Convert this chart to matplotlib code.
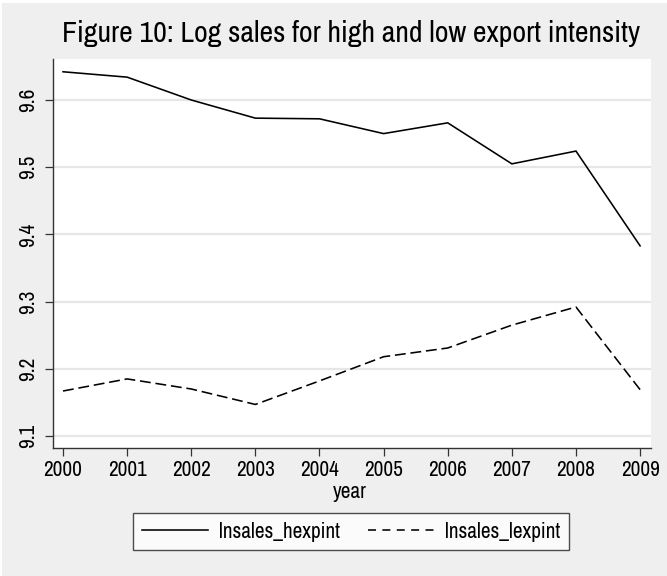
import matplotlib
matplotlib.use("Agg")
import matplotlib.pyplot as plt
from matplotlib.lines import Line2D
from matplotlib.patches import Rectangle

# ---- data ----
years = [2000, 2001, 2002, 2003, 2004, 2005, 2006, 2007, 2008, 2009]
lnsales_hexpint = [9.642, 9.634, 9.600, 9.573, 9.572, 9.550, 9.566, 9.505, 9.524, 9.383]
lnsales_lexpint = [9.167, 9.185, 9.170, 9.147, 9.182, 9.218, 9.231, 9.265, 9.292, 9.169]
yticks = [9.1, 9.2, 9.3, 9.4, 9.5, 9.6]
title = "Figure 10: Log sales for high and low export intensity"
series_labels = ["lnsales_hexpint", "lnsales_lexpint"]

plt.rcParams["font.family"] = ["Archivo Narrow", "Liberation Sans", "DejaVu Sans"]

W, H = 667, 576
fig = plt.figure(figsize=(W / 100, H / 100), dpi=100, facecolor="white")
BG = "#efefef"
fig.patches.append(Rectangle((2 / W, 0), 1, 1 - 3 / H, transform=fig.transFigure,
                             facecolor=BG, edgecolor="none", zorder=-10))

ax = fig.add_axes([53 / W, 1 - 448 / H, (651 - 53) / W, (448 - 59) / H])
ax.set_facecolor("white")
ax.plot(years, lnsales_hexpint, color="black", lw=1.15, solid_joinstyle="miter")
ax.plot(years, lnsales_lexpint, color="black", lw=1.15, dashes=(6.8, 3))

ax.set_xlim(1999.844, 2009.17)
ax.set_ylim(9.0822, 9.661)
ax.set_xticks(years)
ax.set_xticklabels([str(y) for y in years])
ax.set_yticks(yticks)
ax.set_yticklabels([f"{v:.1f}" for v in yticks], rotation=90, va="center")
ax.grid(axis="y", color="#e6e6e6", lw=1.6)
ax.set_axisbelow(True)
for s in ["top", "right"]:
    ax.spines[s].set_visible(False)
for s in ["left", "bottom"]:
    ax.spines[s].set_color("#333333")
    ax.spines[s].set_linewidth(1.0)
ax.tick_params(axis="both", length=5.5, width=0.9, color="#333333", labelsize=15)
ax.tick_params(axis="x", pad=3)
ax.tick_params(axis="y", pad=5)
ax.set_xlabel("year", fontsize=15, va="center")
ax.xaxis.set_label_coords(0.5 - 2 / 598, -(492 - 448) / 389)

t = fig.text(351 / W, 1 - 42 / H, title, ha="center", va="baseline", fontsize=17)

# legend proxies
h1 = Line2D([], [], color="black", lw=1.15)
h2 = Line2D([], [], color="black", lw=1.15, dashes=(5, 4))
leg = fig.legend([h1, h2], series_labels, loc="center",
                 bbox_to_anchor=(351 / W, 1 - 531.5 / H), ncol=2, fontsize=15,
                 frameon=True, fancybox=False, edgecolor="#222222",
                 handlelength=3.2, handletextpad=0.5, columnspacing=1.35,
                 borderpad=0.4, borderaxespad=0)
leg.get_frame().set_linewidth(1.0)

# fit text widths to the reference
fig.canvas.draw()
r = fig.canvas.get_renderer()
w = t.get_window_extent(r).width
t.set_fontsize(t.get_fontsize() * 578 / w)
lab = ax.get_xticklabels()[0]
w2 = lab.get_window_extent(r).width
ts = 15 * 39 / w2
ax.tick_params(axis="both", labelsize=ts)
ax.xaxis.label.set_fontsize(ts)
for tx in leg.get_texts():
    tx.set_fontsize(ts)
leg.handlelength = 3.2 * 15 / ts

fig.savefig("out.png", dpi=100, facecolor=fig.get_facecolor())
